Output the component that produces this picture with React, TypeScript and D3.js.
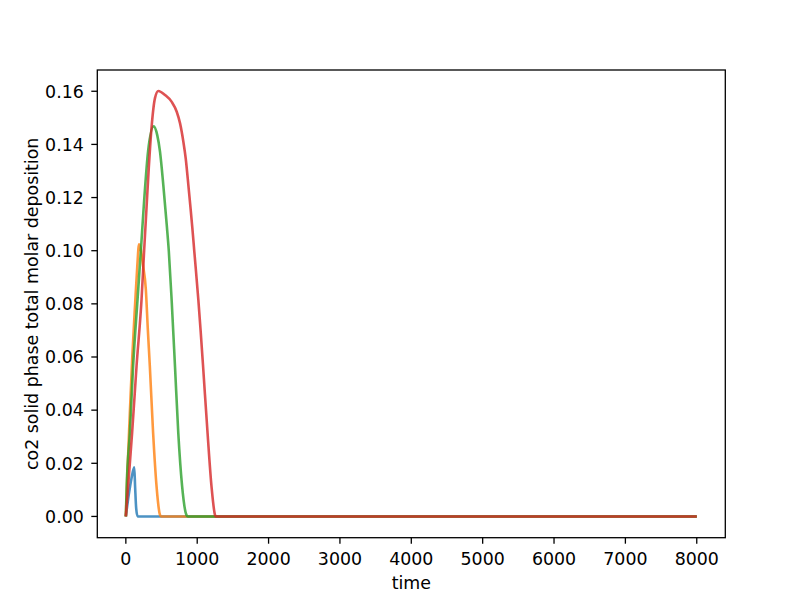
import * as d3 from "d3";

// series values: [time, deposition]
const blueSeries: [number, number][] = [
  [0, 0], [40, 0.008], [80, 0.0145], [118, 0.0185], [130, 0.011], [145, 0.003], [165, 0], [8000, 0],
];
const orangeSeries: [number, number][] = [
  [0, 0], [20, 0.015], [50, 0.035], [90, 0.06], [130, 0.08], [160, 0.094],
  [185, 0.1024], [210, 0.1005], [238, 0.095], [280, 0.0855], [308, 0.0704],
  [336, 0.0566], [382, 0.0315], [430, 0.0114], [476, 0.0008], [495, 0], [8000, 0],
];
const greenSeries: [number, number][] = [
  [0, 0], [12, 0.0114], [56, 0.0316], [102, 0.0566], [164, 0.0817], [210, 0.0999],
  [256, 0.1187], [312, 0.1375], [390, 0.1468], [440, 0.1435], [479, 0.1372],
  [525, 0.1247], [573, 0.1097], [602, 0.0999], [643, 0.0808], [689, 0.0563],
  [735, 0.0313], [787, 0.0118], [850, 0.0005], [870, 0], [8000, 0],
];
const redSeries: [number, number][] = [
  [0, 0], [32, 0.0114], [88, 0.0315], [150, 0.0566], [220, 0.0817], [256, 0.0999],
  [290, 0.1163], [322, 0.1314], [360, 0.1463], [409, 0.1575], [455, 0.1601],
  [549, 0.1586], [643, 0.156], [713, 0.1523], [759, 0.148], [806, 0.141],
  [839, 0.1347], [876, 0.1247], [905, 0.1165], [932, 0.1085], [960, 0.0995],
  [1016, 0.0815], [1047, 0.0702], [1082, 0.0566], [1145, 0.0314], [1201, 0.0111],
  [1250, 0.0005], [1262, 0], [8000, 0],
];

const seriesList = [blueSeries, orangeSeries, greenSeries, redSeries];
const seriesColors = ["#1f77b4", "#ff7f0e", "#2ca02c", "#d62728"];

const xTicks = [0, 1000, 2000, 3000, 4000, 5000, 6000, 7000, 8000];
const yTicks = [0, 0.02, 0.04, 0.06, 0.08, 0.1, 0.12, 0.14, 0.16];

const xLabel = "time";
const yLabel = "co2 solid phase total molar deposition";

export default function App() {
  const width = 800;
  const height = 604;
  const margin = { top: 70, right: 74.7, bottom: 66.3, left: 97.3 };
  const innerW = width - margin.left - margin.right;
  const innerH = height - margin.top - margin.bottom;

  const x = d3.scaleLinear().domain([-400, 8400]).range([0, innerW]);
  const y = d3.scaleLinear().domain([-0.008, 0.168]).range([innerH, 0]);

  const line = d3
    .line<[number, number]>()
    .x((d) => x(d[0]))
    .y((d) => y(d[1]))
    .curve(d3.curveMonotoneX);

  const font = "DejaVu Sans, sans-serif";
  const fs = 17.4;

  return (
    <svg
      width={width}
      height={height}
      style={{ position: "absolute", left: 0, top: 0, background: "#fff" }}
      fontFamily={font}
    >
      <g transform={`translate(${margin.left},${margin.top})`}>
        <defs>
          <clipPath id="plot-clip">
            <rect x={0} y={0} width={innerW} height={innerH} />
          </clipPath>
        </defs>
        <g clipPath="url(#plot-clip)">
          {seriesList.map((s, i) => (
            <path
              key={i}
              d={line(s) ?? ""}
              fill="none"
              stroke={seriesColors[i]}
              strokeOpacity={0.8}
              strokeWidth={2.6}
              strokeLinejoin="round"
              strokeLinecap="butt"
            />
          ))}
        </g>
        <rect x={0} y={0} width={innerW} height={innerH} fill="none" stroke="#000" strokeWidth={1.3} />
        {xTicks.map((t) => (
          <g key={t} transform={`translate(${x(t)},${innerH})`}>
            <line y1={0} y2={6} stroke="#000" strokeWidth={1.3} />
            <text y={27.5} textAnchor="middle" fontSize={fs} fill="#000">
              {t}
            </text>
          </g>
        ))}
        {yTicks.map((t) => (
          <g key={t} transform={`translate(0,${y(t)})`}>
            <line x1={0} x2={-6} stroke="#000" strokeWidth={1.3} />
            <text x={-13.5} dy="0.36em" textAnchor="end" fontSize={fs} fill="#000">
              {t.toFixed(2)}
            </text>
          </g>
        ))}
        <text x={innerW / 2} y={innerH + 51} textAnchor="middle" fontSize={fs} fill="#000">
          {xLabel}
        </text>
        <text
          transform={`translate(${-59.5},${innerH / 2}) rotate(-90)`}
          textAnchor="middle"
          fontSize={fs}
          fill="#000"
        >
          {yLabel}
        </text>
      </g>
    </svg>
  );
}
